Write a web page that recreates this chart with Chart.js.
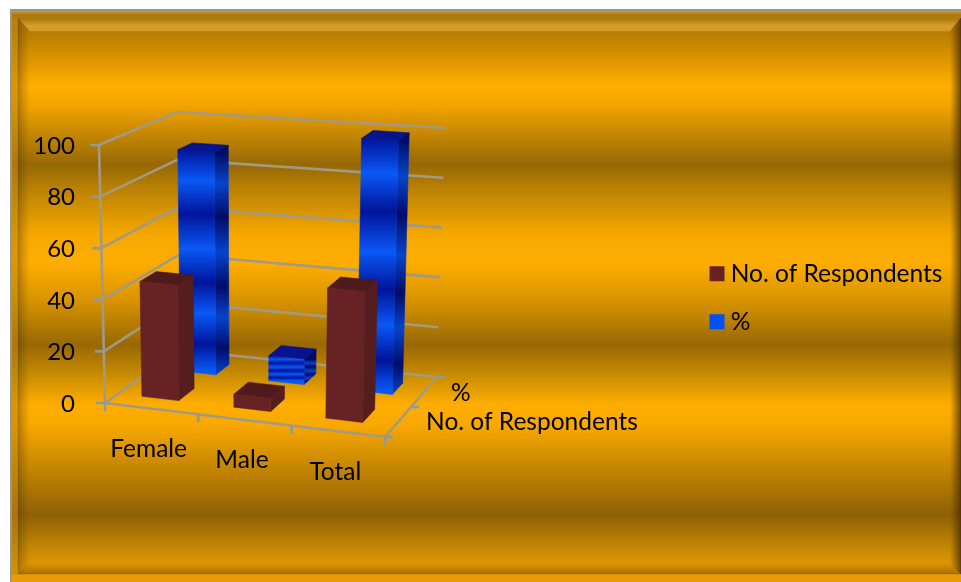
<!DOCTYPE html>
<html>
<head>
<meta charset="utf-8">
<title>Respondents</title>
<script src="https://cdn.jsdelivr.net/npm/chart.js@4"></script>
<style>
    html, body { margin: 0; padding: 0; background: #fff; overflow: hidden; }
    canvas { display: block; }
</style>
</head>
<body>
<canvas id="chart" width="961" height="582"></canvas>
<script>
const categories = ['Female', 'Male', 'Total'];
const respondents = [45, 5, 50];
const percent = [90, 10, 100];
const yTicks = [0, 20, 40, 60, 80, 100];
const seriesNames = ['No. of Respondents', '%'];

// corners of the 3D box on screen (front left, front right, back right, back left)
const floorBox = [[105, 403], [385, 437], [437, 377], [180, 350]];
const topBox = [[99, 145], [391, 172], [445, 128], [177, 112]];
// depth range and sideways nudge of each series row inside the box
const rows = [[0.18, 0.40], [0.66, 0.85]];
const rowShift = [-0.015, -0.002];
const labelFont = '24.5px Lato';

function lerp(a, b, t) {
    return [a[0] + (b[0] - a[0]) * t, a[1] + (b[1] - a[1]) * t];
}
function onBox(box, u, d) {
    return lerp(lerp(box[0], box[1], u), lerp(box[3], box[2], u), d);
}
function project(u, d, v) {
    return lerp(onBox(floorBox, u, d), onBox(topBox, u, d), v);
}
function poly(ctx, pts, fill) {
    ctx.beginPath();
    pts.forEach((p, i) => i ? ctx.lineTo(p[0], p[1]) : ctx.moveTo(p[0], p[1]));
    ctx.closePath();
    ctx.fillStyle = fill;
    ctx.fill();
    // thin stroke closes the seams between faces
    ctx.strokeStyle = fill;
    ctx.lineWidth = 0.6;
    ctx.stroke();
}
function line(ctx, a, b, color) {
    ctx.strokeStyle = color;
    ctx.beginPath();
    ctx.moveTo(a[0], a[1]);
    ctx.lineTo(b[0], b[1]);
    ctx.stroke();
}

// blue bars have the glossy bands, same fractions on every bar
function bandGradient(ctx, y0, y1, dark, bright) {
    const g = ctx.createLinearGradient(0, y0, 0, y1);
    [[0, 0], [0.14, 1], [0.29, 0], [0.45, 1], [0.6, 0], [0.74, 1], [0.88, 0], [1, 1]].forEach(s => {
        g.addColorStop(s[0], s[1] ? bright : dark);
    });
    return g;
}

class Bar3DController extends Chart.BarController {
    draw() {
        const ctx = this.chart.ctx;
        const area = this.chart.chartArea;
        const row = rows[this.index];
        const shift = rowShift[this.index];
        const isBlue = this.index === 1;
        this.getMeta().data.forEach(el => {
            const u0 = (el.x - el.width / 2 - area.left) / area.width + shift;
            const u1 = (el.x + el.width / 2 - area.left) / area.width + shift;
            const v = (area.bottom - el.y) / area.height;
            const d0 = row[0], d1 = row[1];
            const fl = project(u0, d0, 0), fr = project(u1, d0, 0), br = project(u1, d1, 0);
            const tl = project(u0, d0, v), tr = project(u1, d0, v), tbr = project(u1, d1, v), tbl = project(u0, d1, v);
            let front = '#672224', side = '#561d1f', top = '#4f1a1c';
            if (isBlue) {
                front = bandGradient(ctx, tl[1], fl[1], '#00149a', '#0a58f5');
                side = bandGradient(ctx, tr[1], fr[1], '#000c68', '#0644cc');
                top = '#08148c';
            }
            poly(ctx, [tl, tr, tbr, tbl], top);
            poly(ctx, [tr, tbr, br, fr], side);
            poly(ctx, [tl, tr, fr, fl], front);
        });
    }
}
Bar3DController.id = 'bar3d';
Bar3DController.defaults = Chart.BarController.defaults;
Bar3DController.overrides = Chart.BarController.overrides;
Chart.register(Bar3DController);

// gold panel with the bevelled frame
const panelPlugin = {
    id: 'panel',
    beforeDraw(chart) {
        const ctx = chart.ctx;
        const W = 961, H = 582;
        ctx.save();
        ctx.fillStyle = '#fff';
        ctx.fillRect(0, 0, W, H);
        ctx.fillStyle = '#9c9484';
        ctx.fillRect(10, 9, W - 10, H - 9);

        const bg = ctx.createLinearGradient(0, 0, 0, H);
        [[31, '#b57a02'], [62, '#e09800'], [85, '#ffae00'], [105, '#f2a400'], [165, '#966805'],
         [190, '#bc8204'], [235, '#f6a800'], [262, '#ffae00'], [300, '#d89400'], [345, '#986804'],
         [375, '#c88c02'], [405, '#ffae00'], [425, '#f8a800'], [515, '#8e6006'], [545, '#c08404'], [574, '#eea002']]
            .forEach(s => bg.addColorStop(s[0] / H, s[1]));
        ctx.fillStyle = bg;
        ctx.fillRect(12, 11, W - 12, H - 11);

        // outer rim
        const rim = ctx.createLinearGradient(0, 11, 0, 18);
        rim.addColorStop(0, '#cb9c34');
        rim.addColorStop(0.55, '#a87a12');
        rim.addColorStop(1, '#b07c0c');
        ctx.fillStyle = rim;
        ctx.fillRect(12, 11, W - 12, 7);

        // top bevel
        const topB = ctx.createLinearGradient(0, 18, 0, 31);
        topB.addColorStop(0, '#a87408');
        topB.addColorStop(0.6, '#d89e2c');
        topB.addColorStop(1, '#d49a2a');
        poly(ctx, [[18, 18], [W, 18], [950, 31], [30, 31]], topB);

        // left bevel
        const leftB = ctx.createLinearGradient(18, 0, 30, 0);
        leftB.addColorStop(0, 'rgba(80,50,0,0.4)');
        leftB.addColorStop(1, 'rgba(120,80,0,0)');
        poly(ctx, [[18, 18], [30, 31], [30, 563], [18, 574]], leftB);

        // right bevel
        const rightB = ctx.createLinearGradient(950, 0, W, 0);
        rightB.addColorStop(0, 'rgba(90,60,0,0)');
        rightB.addColorStop(1, 'rgba(70,45,0,0.8)');
        poly(ctx, [[950, 31], [W, 18], [W, 574], [950, 563]], rightB);

        // bottom bevel
        const botB = ctx.createLinearGradient(0, 563, 0, 575);
        botB.addColorStop(0, 'rgba(100,65,0,0)');
        botB.addColorStop(1, 'rgba(90,60,0,0.55)');
        poly(ctx, [[30, 563], [950, 563], [W, 574], [18, 574]], botB);
        ctx.fillStyle = '#e89c08';
        ctx.fillRect(12, 575, W - 12, 7);

        ctx.fillStyle = 'rgba(190,135,10,0.55)';
        ctx.fillRect(12, 18, 6, 557);
        ctx.restore();
    }
};

// walls, floor and tick marks go under the bars
const boxPlugin = {
    id: 'box',
    beforeDatasetsDraw(chart) {
        const ctx = chart.ctx;
        const y = chart.scales.y;
        const area = chart.chartArea;
        const grid = '#a29a82', tick = '#8c9aa4';
        ctx.save();
        ctx.lineWidth = 2.6;
        y.ticks.forEach(t => {
            const v = (area.bottom - y.getPixelForValue(t.value)) / area.height;
            const a = project(0, 0, v), b = project(0, 1, v), c = project(1, 1, v);
            if (v > 0) {
                line(ctx, a, b, grid);
                line(ctx, b, c, grid);
            }
            line(ctx, [a[0] - 9, a[1]], a, tick);
        });
        line(ctx, project(0, 0, 0), project(0, 0, 1), grid);
        line(ctx, project(0, 0, 0), project(1, 0, 0), grid);
        line(ctx, project(0, 1, 0), project(1, 1, 0), grid);
        line(ctx, project(0, 0, 0), project(0, 1, 0), grid);
        line(ctx, project(1, 0, 0), project(1, 1, 0), grid);
        for (let i = 0; i <= categories.length; i++) {
            const p = project(i / categories.length, 0, 0);
            line(ctx, p, [p[0], p[1] + 8], tick);
        }
        for (let i = 0; i <= rows.length; i++) {
            const p = project(1, i / rows.length, 0);
            line(ctx, p, [p[0] + 8, p[1]], tick);
        }
        ctx.restore();
    },
    afterDraw(chart) {
        // category and depth labels follow the slanted floor
        const ctx = chart.ctx;
        const x = chart.scales.x;
        const area = chart.chartArea;
        ctx.save();
        ctx.font = labelFont;
        ctx.fillStyle = '#000';
        ctx.textBaseline = 'middle';
        ctx.textAlign = 'center';
        categories.forEach((c, i) => {
            const u = (x.getPixelForValue(i) - area.left) / area.width;
            const p = project(u, 0, 0);
            ctx.fillText(c, p[0] - 3, p[1] + 40.5);
        });
        ctx.textAlign = 'left';
        const depthRows = [[0.18, 0.40], [0.66, 0.88]];
        seriesNames.forEach((name, i) => {
            const p = project(1, (depthRows[i][0] + depthRows[i][1]) / 2, 0);
            ctx.fillText(name, p[0] + 26, p[1] + 2);
        });
        ctx.restore();
    }
};

// the legend sits at a fixed spot on the right, the box layout must not move it
const legendPlugin = {
    id: 'legendSpot',
    afterLayout(chart) {
        const lg = chart.legend;
        lg.left = 692;
        lg.right = 961;
        lg.top = 238;
        lg.bottom = 438;
    }
};

new Chart(document.getElementById('chart'), {
    type: 'bar3d',
    data: {
        labels: categories,
        datasets: [
            { label: seriesNames[0], data: respondents, backgroundColor: '#67221f', borderWidth: 0, clip: false },
            { label: seriesNames[1], data: percent, backgroundColor: '#0050fa', borderWidth: 0, clip: false }
        ]
    },
    plugins: [panelPlugin, boxPlugin, legendPlugin],
    options: {
        responsive: false,
        animation: false,
        grouped: false,
        barPercentage: 0.4,
        categoryPercentage: 1,
        layout: { padding: { top: 145, bottom: 179 } },
        scales: {
            x: { display: false },
            y: {
                min: yTicks[0],
                max: yTicks[yTicks.length - 1],
                afterFit(scale) { scale.width = 105; },
                afterBuildTicks(scale) { scale.ticks = yTicks.map(v => ({ value: v })); },
                border: { display: false },
                grid: { display: false, drawTicks: false },
                ticks: { color: '#000', padding: 30, labelOffset: 1, font: { family: 'Lato', size: 24 } }
            }
        },
        plugins: {
            tooltip: { enabled: false },
            legend: {
                position: 'right',
                align: 'start',
                labels: {
                    color: '#000',
                    font: { family: 'Lato', size: 24.5 },
                    usePointStyle: true,
                    pointStyle: 'rect',
                    boxWidth: 3,
                    boxHeight: 15,
                    padding: 23.5
                }
            }
        }
    }
});
</script>
</body>
</html>
